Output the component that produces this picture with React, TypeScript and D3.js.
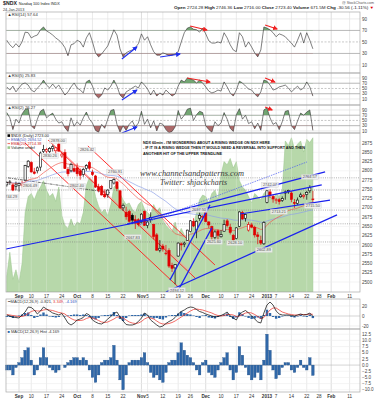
import React from "react";
import * as d3 from "d3";

// ---------- DATA ----------
const dates = ["Aug 28","Aug 29","Aug 30","Aug 31","Sep 4","Sep 5","Sep 6","Sep 7","Sep 10","Sep 11","Sep 12","Sep 13","Sep 14","Sep 17","Sep 18","Sep 19","Sep 20","Sep 21","Sep 24","Sep 25","Sep 26","Sep 27","Sep 28","Oct 1","Oct 2","Oct 3","Oct 4","Oct 5","Oct 8","Oct 9","Oct 10","Oct 11","Oct 12","Oct 15","Oct 16","Oct 17","Oct 18","Oct 19","Oct 22","Oct 23","Oct 24","Oct 25","Oct 26","Oct 31","Nov 1","Nov 2","Nov 5","Nov 6","Nov 7","Nov 8","Nov 9","Nov 12","Nov 13","Nov 14","Nov 15","Nov 16","Nov 19","Nov 20","Nov 21","Nov 23","Nov 26","Nov 27","Nov 28","Nov 29","Nov 30","Dec 3","Dec 4","Dec 5","Dec 6","Dec 7","Dec 10","Dec 11","Dec 12","Dec 13","Dec 14","Dec 17","Dec 18","Dec 19","Dec 20","Dec 21","Dec 24","Dec 26","Dec 27","Dec 28","Dec 31","Jan 2","Jan 3","Jan 4","Jan 7","Jan 8","Jan 9","Jan 10","Jan 11","Jan 14","Jan 15","Jan 16","Jan 17","Jan 18","Jan 22","Jan 23","Jan 24"];

const open = [2762,2768,2762,2758, 2760,2763,2775,2812, 2822,2797,2800,2810,2852, 2853,2852,2860,2854,2872, 2840,2849,2804,2800,2806, 2808,2800,2790,2806,2822, 2796,2786,2757,2758,2737, 2736,2752,2767,2770,2746, 2700,2688,2690,2680,2668, 2668,2660,2690, 2652,2668,2655,2627,2586, 2597,2578,2585,2545,2538, 2570,2603,2602,2612, 2636,2663,2640,2672,2675, 2688,2662,2650,2620,2638, 2622,2637,2665,2648,2626, 2617,2650,2687,2672,2640, 2654,2647,2627,2612,2603, 2715,2743,2731, 2720,2722,2720,2740,2743, 2740,2714,2712,2730,2731, 2736,2746,2724];
const high = [2772,2775,2765,2771, 2768,2773,2816,2829, 2826,2808,2812,2852,2870, 2862,2864,2870,2864,2878, 2852,2858,2810,2822,2815, 2820,2806,2808,2818,2827, 2803,2789,2765,2762,2750, 2750,2775,2780,2772,2748, 2712,2703,2695,2685,2680, 2672,2686,2693, 2666,2688,2657,2632,2613, 2603,2600,2591,2552,2548, 2607,2607,2609,2641, 2667,2672,2666,2688,2680, 2695,2664,2652,2640,2642, 2640,2668,2670,2657,2630, 2648,2691,2692,2684,2662, 2660,2652,2635,2625,2664, 2747,2750,2735, 2727,2727,2731,2747,2749, 2745,2724,2728,2741,2738, 2746,2761,2746];
const low = [2757,2762,2745,2747, 2744,2755,2772,2808, 2795,2790,2793,2800,2848, 2846,2848,2852,2845,2852, 2835,2805,2785,2796,2796, 2785,2776,2784,2800,2801, 2786,2754,2742,2733,2726, 2727,2750,2763,2745,2697, 2692,2668,2660,2656,2643, 2650,2658,2651, 2645,2660,2615,2584,2580, 2582,2572,2538,2527,2494, 2568,2585,2594,2611, 2634,2648,2618,2665,2666, 2661,2645,2610,2612,2610, 2620,2636,2647,2628,2610, 2615,2648,2668,2663,2636, 2645,2620,2602,2600,2600, 2712,2727,2714, 2711,2709,2716,2722,2738, 2715,2700,2708,2727,2725, 2722,2740,2716];
const close = [2768,2770,2748,2762, 2766,2760,2814,2826, 2797,2793,2808,2848,2858, 2857,2860,2865,2862,2853, 2845,2806,2792,2817,2799, 2792,2788,2804,2814,2807, 2790,2756,2747,2735,2730, 2748,2774,2776,2752,2700, 2707,2676,2664,2667,2659, 2655,2683,2653, 2662,2674,2623,2586,2591, 2589,2578,2543,2537,2547, 2605,2600,2605,2640, 2665,2651,2664,2679,2677, 2663,2654,2622,2635,2626, 2628,2655,2652,2634,2614, 2646,2689,2670,2682,2655, 2648,2627,2623,2605,2661, 2746,2733,2724, 2722,2717,2725,2743,2747, 2723,2712,2721,2735,2734, 2742,2754,2723];

// green shaded overlay (0-100 units of the panel height)
const shade = [10,25,8,14, 6,18,50,60, 62,58,63,66,70, 64,60,62,57,66, 48,42,40,46,41, 44,43,50,67,72, 70,60,54,50,52, 48,55,66,68,62, 58,55,56,52,50, 55,57,52, 50,48,55,51,53, 45,42,40,38,44, 36,40,36,30, 38,42,50,58,61, 60,56,62,64,58, 74,82,80,84,78, 82,70,66,64,60, 56,62,60,58,62, 64,60,58, 62,60,64,95,92, 97,90,93,95,88, 96,94,97];

const rsi14 = [53,45,40,47, 41,50,67,66, 57,60,62,71,76, 69,66,62,57,53, 48,40,26,45,47, 53,50,41,57,66, 50,31,24,29,36, 43,57,71,62,38, 24,31,34,36,40, 47,64,53, 59,45,33,27,27, 31,29,26,27,29, 33,50,66,74, 76,72,71,67,74, 64,52,48,48,50, 48,66,57,45,36, 33,66,59,41,50, 41,31,24,36,76, 74,71,66, 59,64,62,59,53, 48,41,53,66,48, 66,53,38];
const rsi5 = [56,44,59,37, 52,67,71,63, 44,37,52,63,82, 63,52,67,52,63, 44,25,37,56,71, 52,44,33,75,82, 59,25,14,25,52, 44,59,82,59,25, 14,37,44,52,59, 52,75,63, 48,25,44,21,33, 25,44,33,21,29, 59,82,75,90, 86,82,71,82,71, 56,40,33,37,44, 40,75,56,33,21, 44,78,71,59,48, 44,29,18,37,82, 78,63,44, 48,56,59,63,52, 37,48,59,44,52, 75,56,21];
const rsi2 = [80,60,15,55, 40,75,92,95, 30,18,55,85,93, 60,70,78,55,40, 45,22,8,60,28, 45,32,60,82,55, 40,12,5,35,20, 55,88,92,35,6, 30,12,35,48,25, 40,85,35, 55,22,48,10,40, 35,15,3,8,25, 88,55,70,93, 97,50,72,85,80, 30,15,5,45,30, 40,80,55,20,8, 72,95,55,70,38, 45,18,40,12,90, 98,60,35, 42,15,45,85,88, 30,15,48,78,70, 82,90,12];

const macd = [2,0,-2,-3, -4,2,8,18, 17,12,4,10,18, 14,10,6,4,2, 5,-4,-14,-18,-14, -8,-6,-3,5,2, -8,-12,-15,-16,-12, -6,-1,5,8,-2, -10,-17,-18,-18,-16, -11,-4,6, 2,-8,-13,-18,-22, -20,-15,-11,-8,-3, 4,9,12,16, 18,17,13,9,7, 4,2,0,-2,-1, 1,4,8,0,-4, -8,3,8,11,6, 0,-6,-12,-14,6, 22,28,22, 10,4,2,2,2, 1,0,2,4,2, 3,6,-0.8];
const signal = [3,2,1,0, -1,-1,1,5, 9,11,10,10,12, 13,12,11,9,7, 6,4,-1,-5,-8, -9,-9,-8,-5,-3, -4,-6,-9,-12,-13, -12,-9,-6,-2,-2, -4,-8,-12,-14,-15, -14,-11,-6, -3,-4,-6,-10,-14, -16,-16,-15,-13,-10, -6,-2,2,6, 10,13,14,13,12, 10,8,6,3,1, 0,1,3,3,2, -1,0,3,6,7, 6,3,-1,-5,-3, 5,12,16, 16,12,8,6,4, 3,2,2,3,3, 3,4,3.3];
const hist = [-2,-2,-4,-1, 1,3,6,7, 2,-4,-2,3,7, 3,-1,-2,-3,-2, 0,-1,1,2,3, 3,2,3,2,-2, -5,-7,-4,1,2, 2,3,8,2,-6, -10,-4,1,2,2, 2,3,5, 1,-3,-5,-4,-6, -7,-3,1,2,2, 5,9,6,4, 3,1,-2,-4,1, 2,-3,-4,-5,-2, 1,3,5,-2,-6, -3,7.5,4,-1,-4, -6,-5,-3,-6,2, 12.5,6,-2, -5.5,-4,-1,1,1, -2,-3,-1,2,-1, -2,3,-4.2];

// axis labels
const xTickLabels = ["Sep","10","17","24","Oct","8","15","22","Nov","5","12","19","26","Dec","10","17","24","2013","7","14","22","28","Feb","11"];
const xTickDays = [4,8,13,18,23,28,33,38,44,46,51,56,60,65,70,75,80,85,88,93,98,102,106,112];
const xTickMonth = [1,0,0,0,1,0,0,0,1,0,0,0,0,1,0,0,0,1,0,0,0,0,1,0];
const priceTicks = [2500,2525,2550,2575,2600,2625,2650,2675,2700,2725,2750,2775,2800,2825,2850,2875];
const rsiTicks = [90,70,50,30,10];
const macdTicks = [20,0,-20];
const histTicks = [12.5,10,7.5,5,2.5,0,-2.5,-5,-7.5,-10];

// chart annotations (day index, price)
const levelLines = [2781,2748,2694,2657,2608];
const redLines = [[5.96,2875,55.9,2487.6],[13.5,2883,61.5,2511],[26.5,2867,68,2546]];
const pinkLines = [[17.4,2856,60.5,2524]];
const blueLines = [[-0.25,2589,102.9,2762],[39.3,2656,104,2797],[76.2,2683.5,105.6,2721],[52,2473,107.9,2681],[53.3,2505,66.4,2708],[55.9,2476,67,2646]];
const blueDotted = [[43.5,2654,98.1,2824]];
const dashDot = [[0.4,2781,33.7,2741]];
const noteTexts = ["2744.29","2806.49","2830.26","2878.00","2802.40","2826.42","2760.91","2667.83","2494.12","2697.50","2625.60","2628.10","2602.89","2742.07","2713.21","2764.57","2715.50"];
const noteDays = [1.1,7.6,14.1,16.7,22.9,26.2,35.4,41.2,55.6,62.8,67.7,74.6,84,86,88.9,99,100];
const notePrices = [2729,2759,2840,2881,2759,2856,2797,2621,2478,2694,2608,2605,2586,2762,2689,2783,2705];
// indicator arrows (day, value)
const p1Blue = [[37.6,20.3,42.5,41.2],[50.1,23.8,56.6,29]];
const p1Red = [[59.9,77.7,65.4,70.7],[84.4,79.4,88.3,72.5]];
const p2Blue = [[37.6,6,42.5,44]];
const p2Red = [[58.9,90,66.4,74.7],[84.4,90,87.6,74.7]];
const p3Blue = [[37.6,2,42.5,25]];
const p3Red = [[84.4,101,86.7,90]];

// ---------- LAYOUT ----------
const W = 377, H = 400;
const XL = 6, XR = 360;
const FONT = "'Liberation Sans', Arial, Helvetica, sans-serif";
const P1 = [12, 73], P2 = [73, 105], P3 = [105, 133], PM = [133, 292], PMA = [299, 329], PH = [329, 392];

function ema(values: number[], n: number) {
  const k = 2 / (n + 1);
  let e = values[0];
  return values.map((v, j) => (j === 0 ? e : (e = v * k + e * (1 - k))));
}

export default function App() {
  const x = d3.scaleLinear().domain([-0.25, 115.4]).range([XL, XR]);
  const y1 = d3.scaleLinear().domain([-4, 102]).range([P1[1], P1[0]]);
  const y2 = d3.scaleLinear().domain([-13, 109]).range([P2[1], P2[0]]);
  const y3 = d3.scaleLinear().domain([2, 109]).range([P3[1], P3[0]]);
  const yM = d3.scaleLinear().domain([2473, 2902]).range([PM[1], PM[0]]);
  const yV = d3.scaleLinear().domain([0, 100]).range([PM[1], PM[0]]);
  const yMa = d3.scaleLinear().domain([-26, 34]).range([PMA[1], PMA[0]]);
  const yH = d3.scaleLinear().domain([-10.9, 14.6]).range([PH[1], PH[0]]);

  const ema20 = ema(close, 20);
  const ema50 = ema(close, 50);
  const fmt = d3.format(".2f");

  const lineOf = (ys: (v: number) => number) =>
    d3.line<number>().x((_, j) => x(j)).y((v) => ys(v));

  const panels = [P1, P2, P3, PM, PMA, PH];

  const rsiPanel = (id: string, data: number[], ys: d3.ScaleLinear<number, number>, P: number[], label: string, blue: number[][], red: number[][]) => {
    const areaHi = d3.area<number>().x((_, j) => x(j)).y0(ys(70)).y1((v) => ys(v));
    const areaLo = d3.area<number>().x((_, j) => x(j)).y0(ys(30)).y1((v) => ys(v));
    return (
      <g key={id}>
        <defs>
          <clipPath id={id + "hi"}><rect x={XL} y={P[0]} width={XR - XL} height={ys(70) - P[0]} /></clipPath>
          <clipPath id={id + "lo"}><rect x={XL} y={ys(30)} width={XR - XL} height={P[1] - ys(30)} /></clipPath>
          <clipPath id={id + "all"}><rect x={XL} y={P[0]} width={XR - XL} height={P[1] - P[0]} /></clipPath>
        </defs>
        {rsiTicks.map((t) => (
          <line key={t} x1={XL} x2={XR} y1={ys(t)} y2={ys(t)}
            stroke={t === 70 || t === 30 ? "#9a9a9a" : t === 50 ? "#b0b0b0" : "#e2e2e2"}
            strokeWidth={0.7} strokeDasharray={t === 50 ? "2 1.5" : undefined} />
        ))}
        <g clipPath={`url(#${id}all)`}>
          <path d={areaHi(data) || ""} fill="#5a965a" opacity={0.85} clipPath={`url(#${id}hi)`} />
          <path d={areaLo(data) || ""} fill="#9e4f4f" opacity={0.85} clipPath={`url(#${id}lo)`} />
          <path d={lineOf(ys)(data) || ""} fill="none" stroke="#3a3a3a" strokeWidth={0.65} />
          {blue.map((a, k) => (
            <line key={"b" + k} x1={x(a[0])} y1={ys(a[1])} x2={x(a[2])} y2={ys(a[3])} stroke="#1f2ff0" strokeWidth={1.1} markerEnd="url(#arrB)" />
          ))}
          {red.map((a, k) => (
            <line key={"r" + k} x1={x(a[0])} y1={ys(a[1])} x2={x(a[2])} y2={ys(a[3])} stroke="#f02020" strokeWidth={1.1} markerEnd="url(#arrR)" />
          ))}
        </g>
        {rsiTicks.map((t) => (
          <text key={"l" + t} x={362} y={ys(t)} dy="0.35em" fontSize={4.6} fill="#444" fontFamily={FONT}>{t}</text>
        ))}
        <text x={XL + 1.5} y={P[0] + 3.8} fontSize={4.2} fill="#333" fontFamily={FONT}>{label}</text>
      </g>
    );
  };

  const green = d3.area<number>().x((_, j) => x(j)).y0(PM[1]).y1((v) => yV(v));

  return (
    <svg width={W} height={H} viewBox={`0 0 ${W} ${H}`} style={{ position: "absolute", left: 0, top: 0, background: "#fff" }}>
      <defs>
        <marker id="arrB" viewBox="0 0 10 10" refX="8" refY="5" markerWidth="5" markerHeight="5" markerUnits="userSpaceOnUse" orient="auto">
          <path d="M0,0 L10,5 L0,10 z" fill="#1f2ff0" />
        </marker>
        <marker id="arrR" viewBox="0 0 10 10" refX="8" refY="5" markerWidth="5" markerHeight="5" markerUnits="userSpaceOnUse" orient="auto">
          <path d="M0,0 L10,5 L0,10 z" fill="#f02020" />
        </marker>
        <clipPath id="mainClip"><rect x={XL} y={PM[0]} width={XR - XL} height={PM[1] - PM[0]} /></clipPath>
      </defs>
      <rect x={0} y={0} width={W} height={H} fill="#fff" />

      {/* header */}
      <text x={3} y={5.2} fontSize={5.2} fontWeight="bold" fill="#222" fontFamily={FONT}>$NDX
        <tspan fontSize={3.8} fontWeight="normal" dx={2}>Nasdaq 100 Index  INDX</tspan></text>
      <text x={3} y={10.8} fontSize={3.8} fill="#333" fontFamily={FONT}>24-Jan-2013</text>
      <text x={374} y={3.6} fontSize={3.6} fill="#555" textAnchor="end" fontFamily={FONT}>@ StockCharts.com</text>
      <text x={174} y={8.6} fontSize={4} fill="#222" fontFamily={FONT} textLength={200} lengthAdjust="spacingAndGlyphs">
        <tspan fontWeight="bold">Open</tspan> 2724.28  <tspan fontWeight="bold">High</tspan> 2746.36  <tspan fontWeight="bold">Low</tspan> 2716.00  <tspan fontWeight="bold">Close</tspan> 2723.40  <tspan fontWeight="bold">Volume</tspan> 671.5M  <tspan fontWeight="bold">Chg</tspan> -30.56 (-1.11%) <tspan fill="#e00000">▼</tspan>
      </text>

      {/* vertical gridlines */}
      {panels.map((P, pi) => (
        <g key={"vg" + pi}>
          {xTickDays.map((d, k) => (
            <line key={k} x1={x(d)} x2={x(d)} y1={P[0]} y2={P[1]} stroke={xTickMonth[k] ? "#cfcfcf" : "#e3e3e3"} strokeWidth={0.7} />
          ))}
        </g>
      ))}

      {rsiPanel("p1", rsi14, y1, P1, "▲RSI(14) 57.64", p1Blue, p1Red)}
      {rsiPanel("p2", rsi5, y2, P2, "▲RSI(5) 25.83", p2Blue, p2Red)}
      {rsiPanel("p3", rsi2, y3, P3, "▲RSI(2) 26.27", p3Blue, p3Red)}

      {/* main price panel */}
      {priceTicks.map((t) => (
        <line key={"hg" + t} x1={XL} x2={XR} y1={yM(t)} y2={yM(t)} stroke="#ececec" strokeWidth={0.6} />
      ))}
      <g clipPath="url(#mainClip)">
        <path d={green(shade) || ""} fill="#b7d8aa" stroke="#98c48a" strokeWidth={0.5} />
        {xTickDays.map((d, k) => (
          <line key={"vg2" + k} x1={x(d)} x2={x(d)} y1={PM[0]} y2={PM[1]} stroke="#ffffff" strokeOpacity={0.35} strokeWidth={0.6} />
        ))}
        {levelLines.map((p) => (
          <line key={"lv" + p} x1={XL} x2={XR} y1={yM(p)} y2={yM(p)} stroke="#7a7a7a" strokeWidth={0.6} strokeDasharray="1 1.2" />
        ))}
        {dashDot.map((a, k) => (
          <line key={"dd" + k} x1={x(a[0])} y1={yM(a[1])} x2={x(a[2])} y2={yM(a[3])} stroke="#333" strokeWidth={0.7} strokeDasharray="3 1 1 1" />
        ))}
        {pinkLines.map((a, k) => (
          <line key={"pk" + k} x1={x(a[0])} y1={yM(a[1])} x2={x(a[2])} y2={yM(a[3])} stroke="#ff9a9a" strokeWidth={0.8} />
        ))}
        {redLines.map((a, k) => (
          <line key={"rl" + k} x1={x(a[0])} y1={yM(a[1])} x2={x(a[2])} y2={yM(a[3])} stroke="#ff1a1a" strokeWidth={0.9} />
        ))}
        <path d={lineOf(yM)(ema50) || ""} fill="none" stroke="#8ea0e6" strokeWidth={0.7} />
        <path d={lineOf(yM)(ema20) || ""} fill="none" stroke="#ef5a50" strokeWidth={0.7} />
        {close.map((c, j) => {
          const o = open[j];
          const prev = j > 0 ? close[j - 1] : o;
          const col = c >= prev ? "#000" : "#e00000";
          const xc = x(j);
          const yT = yM(Math.max(o, c));
          const yB = yM(Math.min(o, c));
          return (
            <g key={"c" + j}>
              <line x1={xc} x2={xc} y1={yM(high[j])} y2={yM(low[j])} stroke={col} strokeWidth={0.7} />
              <rect x={xc - 1.1} y={yT} width={2.2} height={Math.max(0.7, yB - yT)} fill={c < o ? col : "#fff"} stroke={col} strokeWidth={0.6} />
            </g>
          );
        })}
        {blueDotted.map((a, k) => (
          <line key={"bd" + k} x1={x(a[0])} y1={yM(a[1])} x2={x(a[2])} y2={yM(a[3])} stroke="#4a5cf0" strokeWidth={0.7} strokeDasharray="1.5 1" />
        ))}
        {blueLines.map((a, k) => (
          <line key={"bl" + k} x1={x(a[0])} y1={yM(a[1])} x2={x(a[2])} y2={yM(a[3])} stroke="#1a22ee" strokeWidth={1.2} />
        ))}
        {noteTexts.map((t, k) => (
          <g key={"nt" + k}>
            <rect x={x(noteDays[k]) - 8.5} y={yM(notePrices[k]) - 2.6} width={17} height={5} fill="#efefef" fillOpacity={0.85} stroke="#c8c8c8" strokeWidth={0.3} />
            <text x={x(noteDays[k])} y={yM(notePrices[k])} dy="0.35em" fontSize={3.9} textAnchor="middle" fill="#555" fontFamily={FONT}>{t}</text>
          </g>
        ))}
      </g>
      {priceTicks.map((t) => (
        <text key={"pt" + t} x={362} y={yM(t)} dy="0.35em" fontSize={4.6} fill="#444" fontFamily={FONT}>{t}</text>
      ))}
      {/* legend */}
      <g fontFamily={FONT} fontSize={3.9}>
        <rect x={XL + 1.5} y={PM[0] + 1.3} width={2.6} height={2.6} fill="#000" />
        <text x={XL + 5} y={PM[0] + 3.8} fill="#222">$NDX (Daily) {fmt(close[close.length - 1])}</text>
        <line x1={XL + 1.5} x2={XL + 4} y1={PM[0] + 6.6} y2={PM[0] + 6.6} stroke="#8ea0e6" strokeWidth={0.9} />
        <text x={XL + 5} y={PM[0] + 7.8} fill="#5060c0">EMA(50) {fmt(ema50[ema50.length - 1])}</text>
        <line x1={XL + 1.5} x2={XL + 4} y1={PM[0] + 10.6} y2={PM[0] + 10.6} stroke="#ef5a50" strokeWidth={0.9} />
        <text x={XL + 5} y={PM[0] + 11.8} fill="#d03030">EMA(20) {fmt(ema20[ema20.length - 1])}</text>
        <rect x={XL + 1.5} y={PM[0] + 13.3} width={2.6} height={2.6} fill="#9cc98c" />
        <text x={XL + 5} y={PM[0] + 15.8} fill="#222">Volume undef</text>
      </g>
      {/* commentary */}
      <g fontFamily={FONT} fontSize={4} fill="#111" fontWeight="bold">
        <text x={143} y={143.5} textLength={127} lengthAdjust="spacingAndGlyphs">NDX 60min - I'M WONDERING ABOUT A RISING WEDGE ON NDX HERE</text>
        <text x={143} y={149.2} textLength={162} lengthAdjust="spacingAndGlyphs">- IF IT IS A RISING WEDGE THEN IT WOULD NEED A REVERSAL INTO SUPPORT AND THEN</text>
        <text x={143} y={155} textLength={79} lengthAdjust="spacingAndGlyphs">ANOTHER HIT OF THE UPPER TRENDLINE</text>
      </g>
      <text x={140} y={176} fontFamily="'Liberation Serif', 'Times New Roman', serif" fontStyle="italic" fontSize={8} fill="#3a3a3a" textLength={104} lengthAdjust="spacingAndGlyphs">www.channelsandpatterns.com</text>
      <text x={160} y={185} fontFamily="'Liberation Serif', 'Times New Roman', serif" fontStyle="italic" fontSize={8} fill="#3a3a3a" textLength={67} lengthAdjust="spacingAndGlyphs">Twitter: shjackcharts</text>

      {/* x labels under main panel and at bottom */}
      {[296.8, 396.8].map((yy) => (
        <g key={"xl" + yy}>
          {xTickLabels.map((t, k) => (
            <text key={k} x={x(xTickDays[k])} y={yy} dy="0.35em" textAnchor="middle" fontSize={4.6}
              fontWeight={xTickMonth[k] ? "bold" : "normal"} fill="#333" fontFamily={FONT}>{t}</text>
          ))}
        </g>
      ))}

      {/* MACD panel */}
      {macdTicks.map((t) => (
        <line key={"mg" + t} x1={XL} x2={XR} y1={yMa(t)} y2={yMa(t)} stroke={t === 0 ? "#b8b8b8" : "#e6e6e6"} strokeWidth={0.6} />
      ))}
      {hist.map((v, j) => (
        <rect key={"mh" + j} x={x(j) - 1.2} y={Math.min(yMa(0), yMa(v))} width={2.4} height={Math.abs(yMa(v) - yMa(0))} fill="#2f67a8" />
      ))}
      <path d={lineOf(yMa)(signal) || ""} fill="none" stroke="#ee3a32" strokeWidth={0.75} />
      <path d={lineOf(yMa)(macd) || ""} fill="none" stroke="#111" strokeWidth={0.75} />
      {macdTicks.map((t) => (
        <text key={"mt" + t} x={362} y={yMa(t)} dy="0.35em" fontSize={4.6} fill="#444" fontFamily={FONT}>{t}</text>
      ))}
      <text x={XL + 1.5} y={PMA[0] + 3.8} fontSize={4} fill="#333" fontFamily={FONT}>━ MACD(12,26,9) -0.821, <tspan fill="#e03030">3.349</tspan>, <tspan fill="#3050c0">-4.169</tspan></text>

      {/* histogram panel */}
      {histTicks.map((t) => (
        <line key={"hgl" + t} x1={XL} x2={XR} y1={yH(t)} y2={yH(t)} stroke={t === 0 ? "#b8b8b8" : "#ececec"} strokeWidth={0.6} />
      ))}
      {hist.map((v, j) => (
        <rect key={"hb" + j} x={x(j) - 1.3} y={Math.min(yH(0), yH(v))} width={2.6} height={Math.abs(yH(v) - yH(0))} fill="#2f67a8" stroke="#1b4a82" strokeWidth={0.3} />
      ))}
      {histTicks.map((t) => (
        <text key={"ht" + t} x={362} y={yH(t)} dy="0.35em" fontSize={4.6} fill="#444" fontFamily={FONT}>{d3.format(".1f")(t)}</text>
      ))}
      <text x={XL + 1.5} y={PH[0] + 4} fontSize={4} fill="#333" fontFamily={FONT}><tspan fill="#2f67a8">■</tspan> MACD(12,26,9) Hist -4.169</text>

      {/* panel frames */}
      {panels.map((P, pi) => (
        <rect key={"fr" + pi} x={XL} y={P[0]} width={XR - XL} height={P[1] - P[0]} fill="none" stroke="#a8a8a8" strokeWidth={0.7} />
      ))}
    </svg>
  );
}
